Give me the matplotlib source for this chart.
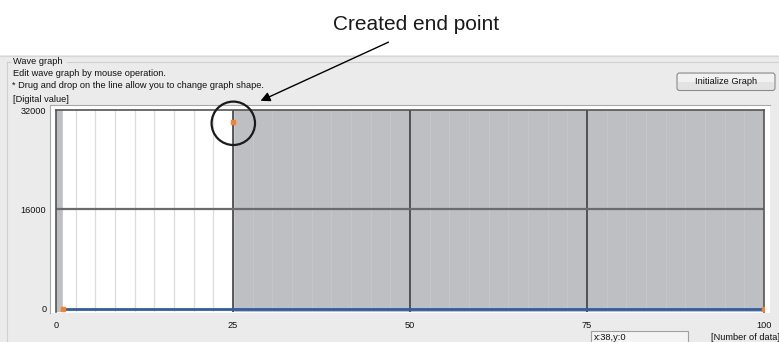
import matplotlib
matplotlib.use("Agg")
import numpy as np
import matplotlib.pyplot as plt
from matplotlib.patches import Rectangle, Circle, FancyBboxPatch

# wave data (points on the line) and the newly created end point
wave_x = [1, 100]
wave_y = [0, 0]
end_x = [25]
end_y = [30000]

# white (editable) span and grid lines
edit_span = (1, 25)
x_ticks = [0, 25, 50, 75, 100]
y_ticks = [0, 16000, 32000]
major_x = [25, 50, 75]
major_y = [16000]

W, H = 779, 342
FS = 6.7
plt.rcParams["font.family"] = ["Liberation Sans", "DejaVu Sans"]

fig = plt.figure(figsize=(W / 100, H / 100), dpi=100)
fig.patch.set_facecolor("#EBEBEB")


def frac(x0, y0, x1, y1):
    # pixel box (top-left origin) -> figure fraction rect
    return [x0 / W, 1 - y1 / H, (x1 - x0) / W, (y1 - y0) / H]


# --- background "window" layer ---
bg = fig.add_axes([0, 0, 1, 1], zorder=0)
bg.set_xlim(0, W)
bg.set_ylim(H, 0)
bg.axis("off")
bg.add_patch(Rectangle((0, 0), W, 55, facecolor="white", edgecolor="none"))
bg.plot([0, W], [55.5, 55.5], color="#D6D6D6", lw=0.8)

# group box
gb = "#CFCFCF"
bg.plot([7, 7], [H, 62], color=gb, lw=0.8)
bg.plot([7, 11], [62, 62], color=gb, lw=0.8)
bg.plot([67, W], [62, 62], color=gb, lw=0.8)
bg.text(13, 62, "Wave graph", fontsize=FS, va="center", color="#111")
bg.text(13, 73.5, "Edit wave graph by mouse operation.", fontsize=FS, va="center", color="#111")
bg.text(12.5, 85, "* Drug and drop on the line allow you to change graph shape.",
        fontsize=FS, va="center", color="#111")
bg.text(13, 99, "[Digital value]", fontsize=FS, va="center", color="#111")

# button
bg.add_patch(FancyBboxPatch((677, 73), 98, 17.5, boxstyle="round,pad=0,rounding_size=2.5",
                            facecolor="#E3E3E3", edgecolor="#8C8C8C", lw=0.8))
bg.add_patch(Rectangle((678, 74), 96, 7.5, facecolor="#F1F1F1", edgecolor="none"))
bg.text(726, 81.5, "Initialize Graph", fontsize=FS, ha="center", va="center", color="#111")

# sunken panel around the graph
bg.add_patch(Rectangle((50, 105), 720, 208, facecolor="white", edgecolor="none"))
bg.plot([50, 50, 770], [313, 105, 105], color="#A8A8A8", lw=0.8)

# status box + axis caption at bottom
bg.add_patch(Rectangle((591, 331), 97, 20, facecolor="#F3F3F3", edgecolor="#A0A0A0", lw=0.8))
bg.text(593.5, 333, "x:38,y:0", fontsize=FS, va="top", color="#111")
bg.text(711, 337.5, "[Number of data]", fontsize=FS, va="center", color="#111")

# --- graph ---
ax = fig.add_axes(frac(56, 110, 764, 311.5), zorder=1)
ax.set_xlim(0, 100)
ax.set_ylim(-480, 32000)
ax.set_facecolor("#BEBFC3")
ax.axvspan(*edit_span, color="white", zorder=0)

# faint minor lines: light grey on white, barely lighter on grey
minor = np.arange(25 / 9, 100, 25 / 9)
in_edit = minor < edit_span[1]
ax.vlines(minor[in_edit], -480, 32000, color="#DCDCDC", lw=0.9, zorder=0.5)
ax.vlines(minor[~in_edit], -480, 32000, color="#C5C6C9", lw=0.9, zorder=0.5)
for v in major_x:
    ax.axvline(v, color="#333333", lw=1.1, zorder=1)
for v in major_y:
    ax.axhline(v, color="#6B6B6B", lw=1.6, zorder=1)

ax.plot(wave_x, wave_y, color="#2E5DA8", lw=2.0, zorder=3, solid_capstyle="butt")
ax.plot(wave_x, wave_y, ls="none", marker="s", ms=3.2, color="#F5822A", zorder=4)
ax.plot(end_x, end_y, ls="none", marker="s", ms=3.2, color="#F5822A", zorder=4)

ax.set_xticks(x_ticks)
ax.set_yticks(y_ticks)
ax.tick_params(which="both", length=0, labelsize=6.6, colors="#111")
ax.tick_params(axis="y", pad=7)
ax.tick_params(axis="x", pad=7)
for s in ("left", "top", "right"):
    ax.spines[s].set_color("#555555")
    ax.spines[s].set_linewidth(1.2)
ax.spines["bottom"].set_visible(False)

# --- callout layer ---
top = fig.add_axes([0, 0, 1, 1], zorder=2)
top.set_xlim(0, W)
top.set_ylim(H, 0)
top.axis("off")
top.patch.set_alpha(0)
top.text(416, 30.5, "Created end point", fontsize=15, ha="center", va="baseline", color="#1A1A1A")
top.annotate("", xy=(258, 102), xytext=(391, 41),
             arrowprops=dict(arrowstyle="-|>", color="black", lw=1.0, mutation_scale=14))
top.add_patch(Circle((233.3, 123.3), 21.7, fill=False, edgecolor="#1A1A1A", lw=1.6))

fig.savefig("out.png", dpi=100)
